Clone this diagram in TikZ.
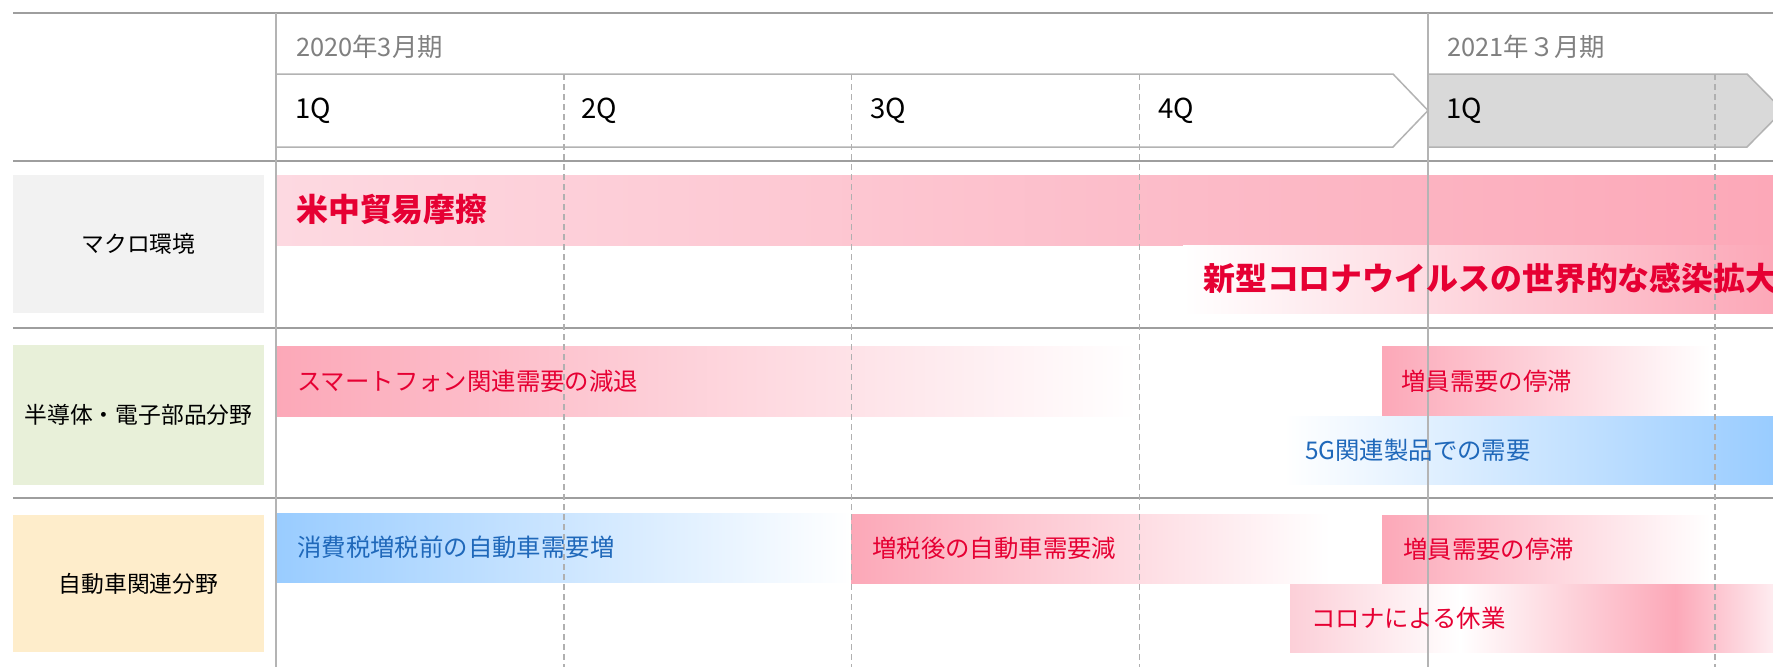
\documentclass[tikz,border=0pt]{standalone}
\usepackage{fontspec}
\setmainfont{Noto Sans CJK JP}
\definecolor{pinkD}{HTML}{FCA8B8}
\definecolor{pinkL}{HTML}{FDD9E1}
\definecolor{pinkS}{HTML}{FCCFD8}
\definecolor{pinkE}{HTML}{FEECF0}
\definecolor{blueD}{HTML}{99CCFF}
\definecolor{txtred}{HTML}{E60033}
\definecolor{txtblue}{HTML}{1F68BA}
\definecolor{yeargray}{HTML}{808080}
\definecolor{hgray}{HTML}{9E9E9E}
\definecolor{vgray}{HTML}{B4B4B4}
\definecolor{dgray}{HTML}{B0B0B0}
\definecolor{bandgray}{HTML}{D9D9D9}
\definecolor{bandline}{HTML}{B3B3B3}
\definecolor{boxA}{HTML}{F2F2F2}
\definecolor{boxB}{HTML}{E8F0D9}
\definecolor{boxC}{HTML}{FEEDCB}
\tikzset{
  lab/.style={inner sep=0pt, text=black, font=\fontsize{22.8}{26}\selectfont},
  bartxt/.style={anchor=west, inner sep=0pt, font=\fontsize{24.4}{28}\selectfont},
  redtxt/.style={bartxt, text=txtred},
  bluetxt/.style={bartxt, text=txtblue},
  bigtxt/.style={anchor=west, inner sep=0pt, text=txtred, font=\fontsize{31.9}{36}\selectfont\bfseries},
  qtxt/.style={anchor=west, inner sep=0pt, text=black, font=\fontsize{27.5}{30}\selectfont},
  yeartxt/.style={anchor=west, inner sep=0pt, text=yeargray, font=\fontsize{25.4}{30}\selectfont},
  hline/.style={draw=hgray, line width=2pt},
  vline/.style={draw=vgray, line width=2pt},
  dline/.style={draw=dgray, line width=1.5pt, dash pattern=on 6pt off 4pt},
  band/.style={draw=bandline, line width=1.5pt, line join=miter},
}
\begin{document}
\begin{tikzpicture}[x=1pt,y=-1pt]
\useasboundingbox (0,0) rectangle (1773,667);
\clip (0,0) rectangle (1773,667);
\fill[white] (0,0) rectangle (1773,667);

% row label boxes
\fill[boxA] (13,175) rectangle (264,313);
\fill[boxB] (13,345) rectangle (264,485);
\fill[boxC] (13,515) rectangle (264,652);

% row 1 bars
\shade[left color=pinkL, right color=pinkD] (276,175) rectangle (1773,245);
\shade[left color=white, right color=pinkD] (1183,245) rectangle (1773,313);

% row 2 bars
\shade[left color=pinkD, right color=white] (276,346) rectangle (1137,416);
\shade[left color=pinkD, right color=white] (1382,346) rectangle (1710,416);
\shade[left color=white, right color=blueD] (1284,416) rectangle (1773,484);

% row 3 bars
\shade[left color=blueD, right color=white] (276,513) rectangle (851,582);
\shade[left color=pinkD, right color=white] (851,514) rectangle (1330,583);
\shade[left color=pinkD, right color=white] (1382,515) rectangle (1710,584);
\shade[left color=pinkS, right color=white] (1290,584) rectangle (1460.5,652);
\shade[left color=white, right color=pinkD] (1460,584) rectangle (1675.5,652);
\shade[left color=pinkD, right color=pinkE] (1675,584) rectangle (1773,652);

% header bands
\path[band, fill=white] (276,74) -- (1393,74) -- (1428,110.5) -- (1393,147) -- (276,147) -- cycle;
\path[band, fill=bandgray] (1428,74) -- (1747,74) -- (1783,110.5) -- (1747,147) -- (1428,147) -- cycle;

% grid lines
\foreach \yy in {13,161,328,498} \draw[hline] (13,\yy) -- (1773,\yy);
\foreach \xx in {276,1427.5} \draw[vline] (\xx,13) -- (\xx,667);
\foreach \xx in {563.75,851.5,1139.25,1715} \draw[dline] (\xx,74) -- (\xx,667);

% header texts
\node[yeartxt] (y20) at (296,47) {2020年3月期};
\node[yeartxt] (y21) at (1447,47) {2021年３月期};
\node[qtxt] (q1) at (295,111) {1Q};
\node[qtxt] (q2) at (581,111) {2Q};
\node[qtxt] (q3) at (870,111) {3Q};
\node[qtxt] (q4) at (1158,111) {4Q};
\node[qtxt] (q5) at (1446,111) {1Q};

% row labels
\node[lab] (l1) at (138.5,244) {マクロ環境};
\node[lab] (l2) at (138.5,415) {半導体・電子部品分野};
\node[lab] (l3) at (138.5,583.5) {自動車関連分野};

% bar texts
\node[bigtxt] (t1) at (296,209) {米中貿易摩擦};
\node[bigtxt] (t2) at (1203,278) {新型コロナウイルスの世界的な感染拡大};
\node[redtxt] (t3) at (297,381) {スマートフォン関連需要の減退};
\node[redtxt] (t4) at (1401,381) {増員需要の停滞};
\node[bluetxt] (t5) at (1305,450) {5G関連製品での需要};
\node[bluetxt] (t6) at (297,547.5) {消費税増税前の自動車需要増};
\node[redtxt] (t7) at (872,548.5) {増税後の自動車需要減};
\node[redtxt] (t8) at (1403,549.5) {増員需要の停滞};
\node[redtxt] (t9) at (1311,618) {コロナによる休業};
\end{tikzpicture}
\end{document}
